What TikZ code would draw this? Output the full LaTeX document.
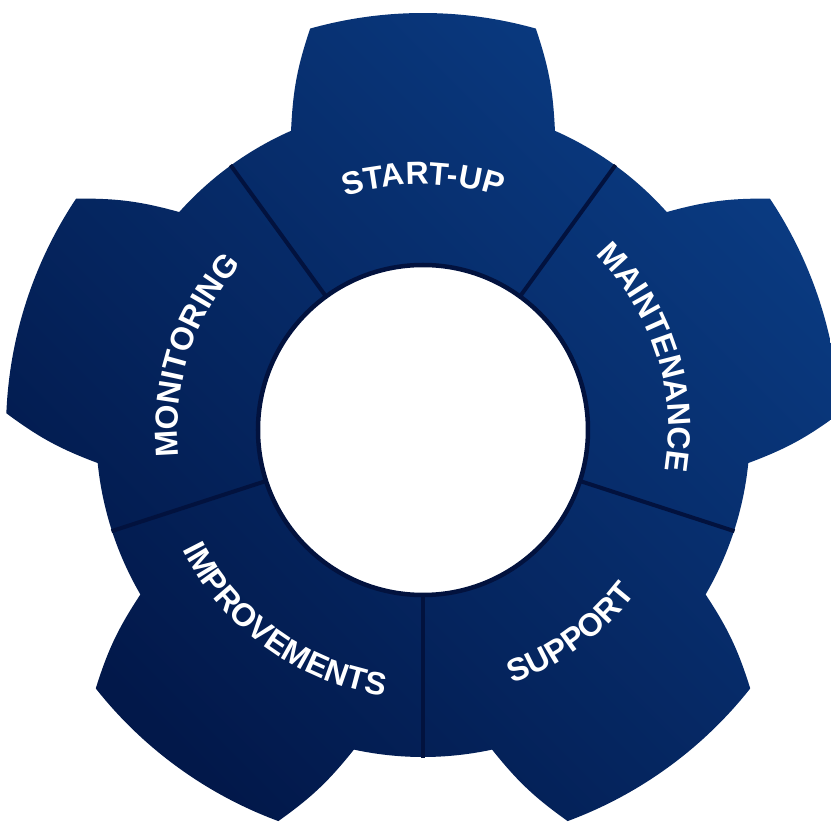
\documentclass[tikz,border=0pt]{standalone}
\usepackage{fontspec}
\newfontfamily\lblfont{Liberation Sans}
\usetikzlibrary{decorations.text}
\definecolor{gearlight}{HTML}{0A3B82}
\definecolor{geardark}{HTML}{02184A}
\definecolor{divcol}{HTML}{02123E}
\newcommand\lbl{\lblfont\bfseries\fontsize{32}{32}\selectfont}
\tikzset{
  gearbody/.style={even odd rule, top color=gearlight, bottom color=geardark, shading angle=-45},
  divider/.style={draw=divcol, line width=4pt},
  hubring/.style={draw=divcol, line width=4.5pt},
  outlbl/.style={decorate, decoration={text along path, text align=center, text color=white, text={|\lbl|#1}}},
}
\begin{document}
\begin{tikzpicture}
\useasboundingbox (-423pt,-397pt) rectangle (408pt,430pt);
\fill[white] (-423pt,-397pt) rectangle (408pt,430pt);
\clip (-423pt,-397pt) rectangle (408pt,430pt);
% gear outline
\shade[gearbody]
  (-162:327pt)
  % tooth -126
  arc[start angle=-162, end angle=-149.8, radius=327pt]
  to[bend right=8] (-141.7:417pt)
  arc[start angle=-141.7, end angle=-110.3, radius=417pt]
  to[bend right=8] (-102.2:327pt)
  arc[start angle=-102.2, end angle=-90, radius=327pt]
  % tooth -54
  arc[start angle=-90, end angle=-77.8, radius=327pt]
  to[bend right=8] (-69.7:417pt)
  arc[start angle=-69.7, end angle=-38.3, radius=417pt]
  to[bend right=8] (-30.2:327pt)
  arc[start angle=-30.2, end angle=-18, radius=327pt]
  % tooth 18
  arc[start angle=-18, end angle=-5.8, radius=327pt]
  to[bend right=8] (2.3:417pt)
  arc[start angle=2.3, end angle=33.7, radius=417pt]
  to[bend right=8] (41.8:327pt)
  arc[start angle=41.8, end angle=54, radius=327pt]
  % tooth 90
  arc[start angle=54, end angle=66.2, radius=327pt]
  to[bend right=8] (74.3:417pt)
  arc[start angle=74.3, end angle=105.7, radius=417pt]
  to[bend right=8] (113.8:327pt)
  arc[start angle=113.8, end angle=126, radius=327pt]
  % tooth 162
  arc[start angle=126, end angle=138.2, radius=327pt]
  to[bend right=8] (146.3:417pt)
  arc[start angle=146.3, end angle=177.7, radius=417pt]
  to[bend right=8] (185.8:327pt)
  arc[start angle=185.8, end angle=198, radius=327pt]
  -- cycle
  (0,0) circle[radius=165pt];
% dividers
\foreach \a in {54,126,198,270,342}
  \draw[divider] (\a:165pt) -- (\a:327.5pt);
\draw[hubring] (0,0) circle[radius=165pt];
% labels (tops outward, clockwise)
\path[outlbl={S{TA}R{T-}UP}] (130:245.5pt) arc[start angle=130, end angle=50, radius=245.5pt];
\path[outlbl=MAINTENANCE] (58:245.5pt) arc[start angle=58, end angle=-22, radius=245.5pt];
\path[outlbl=MONITORING] (202:245.5pt) arc[start angle=202, end angle=122, radius=245.5pt];
% labels (tops inward, counterclockwise)
\path[outlbl=IMPROVEMENTS] (194:268.5pt) arc[start angle=194, end angle=274, radius=268.5pt];
\path[outlbl=SUPPORT] (266:268.5pt) arc[start angle=266, end angle=346, radius=268.5pt];
\end{tikzpicture}
\end{document}
